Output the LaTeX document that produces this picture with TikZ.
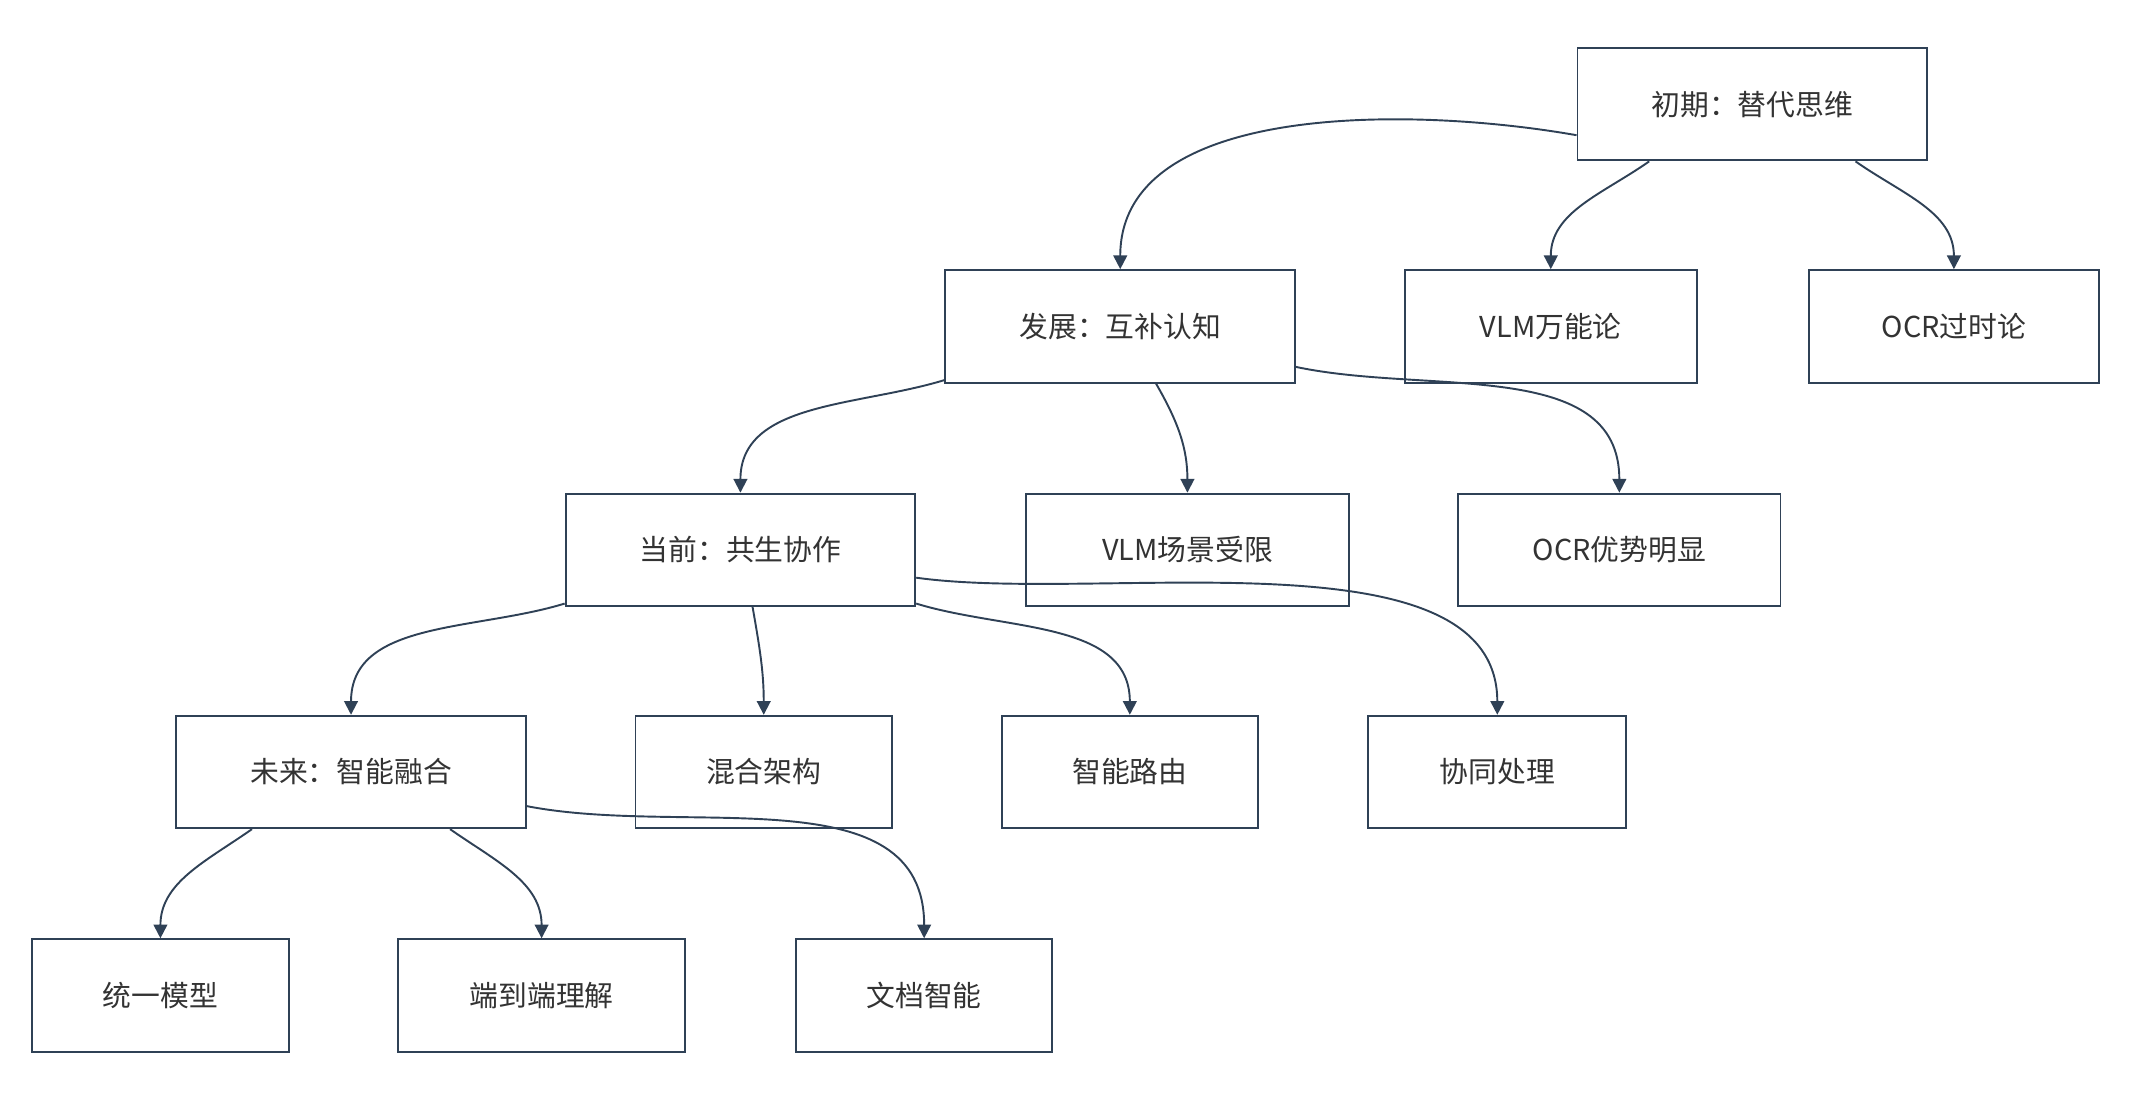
\documentclass[tikz,border=0pt]{standalone}
\usepackage{fontspec}
\setmainfont{Noto Sans CJK SC}
\usetikzlibrary{arrows.meta}
\definecolor{edge}{HTML}{2F4156}
\definecolor{txt}{HTML}{333333}
\begin{document}
\begin{tikzpicture}[x=1pt,y=-1pt,
  box/.style={draw=edge,line width=1.4pt,fill=white,minimum height=82pt,inner sep=0pt,text=txt,font=\fontsize{21}{25}\selectfont},
  arr/.style={draw=edge,line width=1.4pt,-{Triangle[length=10pt,width=10pt]}}]
\useasboundingbox (0,0) rectangle (1560,806);
\node[box,minimum width=255pt] (a) at (1278,76) {初期：替代思维};
\node[box,minimum width=255pt] (b) at (817,238) {发展：互补认知};
\node[box,minimum width=213pt] (c) at (1131,238) {VLM万能论};
\node[box,minimum width=212pt] (d) at (1425,238) {OCR过时论};
\node[box,minimum width=255pt] (e) at (540,401) {当前：共生协作};
\node[box,minimum width=236pt] (f) at (866,401) {VLM场景受限};
\node[box,minimum width=235pt] (g) at (1181,401) {OCR优势明显};
\node[box,minimum width=255pt] (h) at (256,563) {未来：智能融合};
\node[box,minimum width=187pt] (i) at (557,563) {混合架构};
\node[box,minimum width=187pt] (j) at (824,563) {智能路由};
\node[box,minimum width=188pt] (k) at (1092,563) {协同处理};
\node[box,minimum width=187pt] (l) at (117,726) {统一模型};
\node[box,minimum width=209pt] (m) at (395,726) {端到端理解};
\node[box,minimum width=187pt] (n) at (674,726) {文档智能};
\draw[arr] (a.190) to[out=170,in=90,looseness=0.9] (b.north);
\draw[arr] (a.209) to[out=215,in=90] (c.north);
\draw[arr] (a.331) to[out=-35,in=90] (d.north);
\draw[arr] (b.197) to[out=197,in=90] (e.north);
\draw[arr] (b.302) to[out=-60,in=90] (f.north);
\draw[arr] (b.347) to[out=-12,in=90] (g.north);
\draw[arr] (e.197) to[out=197,in=90] (h.north);
\draw[arr] (e.282) to[out=-80,in=90] (i.north);
\draw[arr] (e.343) to[out=-17,in=90] (j.north);
\draw[arr] (e.351) to[out=-8,in=90,looseness=0.8] (k.north);
\draw[arr] (h.210) to[out=215,in=90] (l.north);
\draw[arr] (h.330) to[out=-35,in=90] (m.north);
\draw[arr] (h.349) to[out=-11,in=90] (n.north);
\end{tikzpicture}
\end{document}
